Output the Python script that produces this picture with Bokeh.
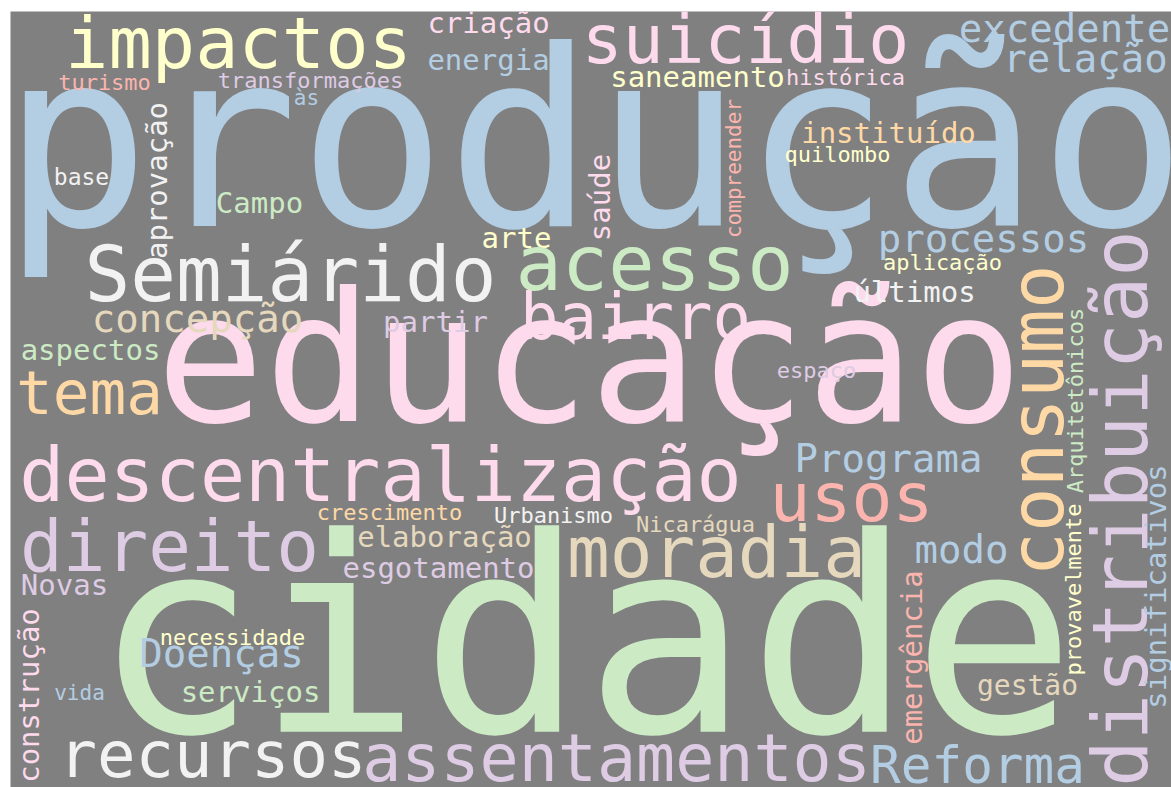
import math
from bokeh.plotting import figure
from bokeh.models import ColumnDataSource, Range1d
from bokeh.core.properties import value
from bokeh.embed import file_html
from bokeh.resources import INLINE

RED, BLUE, GREEN, PURPLE = "#fbb4ae", "#b3cde3", "#ccebc5", "#decbe4"
ORANGE, YELLOW, TAN, PINK, WHITE = "#fed9a6", "#ffffcc", "#e5d8bd", "#fddaec", "#f2f2f2"

V = math.pi / 2  # vertical words (read bottom to top)

# word, centre x (horizontal) / baseline x (vertical), baseline y / centre y, font px, angle, colour
words = ["produção", "cidade", "educação", "impactos", "suicídio", "excedente", "relação",
         "criação", "energia", "saneamento", "histórica", "turismo", "transformações", "às",
         "base", "Campo", "instituído", "quilombo", "arte", "Semiárido", "acesso", "processos",
         "aplicação", "últimos", "bairro", "concepção", "partir", "aspectos", "tema", "espaço",
         "descentralização", "Programa", "usos", "crescimento", "Urbanismo", "Nicarágua",
         "direito", "elaboração", "moradia", "esgotamento", "Novas", "modo", "necessidade",
         "Doenças", "vida", "serviços", "gestão", "recursos", "assentamentos", "Reforma",
         "distribuição", "consumo", "Arquitetônicos", "provavelmente", "significativos",
         "emergência", "compreender", "saúde", "aprovação", "construção"]
word_x = [594, 584, 589, 238, 745, 1064, 1085,
          488, 488, 697, 845, 104, 310, 306,
          81, 259, 888, 837, 516, 290, 654, 983,
          942, 914, 635, 197, 435, 90, 89, 816,
          380, 888, 851, 389, 553, 695,
          169, 444, 716, 438, 64, 961, 232,
          221, 79, 250, 1027, 212, 616, 977,
          1148, 1064, 1083, 1081, 1166,
          922, 741, 610, 167, 39]
word_y = [232, 738, 425, 69, 64, 42, 72,
          33, 70, 87, 85, 90, 88, 105,
          185, 213, 143, 162, 248, 302, 291, 252,
          270, 302, 340, 332, 332, 360, 415, 378,
          502, 472, 522, 520, 523, 532,
          572, 547, 578, 578, 595, 563, 645,
          667, 700, 702, 695, 778, 782, 784,
          508, 420, 400, 589, 586,
          657, 168, 197, 180, 695]
word_size = [246, 272, 180, 72, 68, 39, 39,
             29, 29, 29, 22, 22, 22, 21,
             23, 29, 29, 22, 29, 76, 77, 39,
             22, 29, 64, 39, 29, 29, 61, 22,
             75, 39, 68, 22, 22, 22,
             71, 29, 71, 29, 29, 39, 22,
             39, 21, 29, 28, 64, 65, 51,
             77, 74, 22, 22, 29,
             29, 21, 29, 29, 29]
word_angle = [0] * 50 + [V] * 10
word_color = [BLUE, GREEN, PINK, YELLOW, PINK, BLUE, BLUE,
              PINK, BLUE, YELLOW, PINK, RED, PURPLE, BLUE,
              WHITE, GREEN, ORANGE, YELLOW, YELLOW, WHITE, GREEN, BLUE,
              YELLOW, WHITE, PINK, TAN, PURPLE, GREEN, ORANGE, PURPLE,
              PINK, BLUE, RED, ORANGE, WHITE, TAN,
              PURPLE, TAN, TAN, PURPLE, PURPLE, BLUE, YELLOW,
              BLUE, BLUE, GREEN, TAN, WHITE, PURPLE, BLUE,
              PURPLE, ORANGE, GREEN, YELLOW, BLUE,
              RED, RED, PINK, WHITE, PINK]

# the renderer places the glyph baseline ~0.37 em below the anchor; compensate
K = 0.37
draw_x = [x - K * s * math.sin(a) for x, s, a in zip(word_x, word_size, word_angle)]
draw_y = [y - K * s * math.cos(a) for y, s, a in zip(word_y, word_size, word_angle)]

source = ColumnDataSource(dict(
    text=words, x=draw_x, y=draw_y,
    size=[f"{s}px" for s in word_size],
    angle=word_angle, color=word_color,
))

p = figure(width=1171, height=787, output_backend="svg", toolbar_location=None,
           x_range=Range1d(10, 1171), y_range=Range1d(787, 11),
           x_axis_location=None, y_axis_location=None,
           min_border_left=10, min_border_right=0, min_border_top=11, min_border_bottom=0)
p.grid.visible = False
p.outline_line_color = None
p.background_fill_color = "#808080"
p.border_fill_color = "white"

p.text(x="x", y="y", text="text", source=source, angle="angle",
       text_font=value("DejaVu Sans Mono"), text_font_size="size",
       text_color="color", text_align="center", text_baseline="alphabetic")

open("out.html", "w").write(file_html(p, INLINE))
